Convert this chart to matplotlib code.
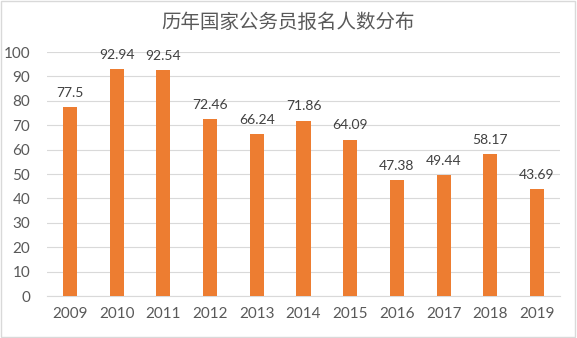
import matplotlib.pyplot as plt
import numpy as np

years = ['2009', '2010', '2011', '2012', '2013', '2014', '2015', '2016', '2017', '2018', '2019']
applicants = [77.5, 92.94, 92.54, 72.46, 66.24, 71.86, 64.09, 47.38, 49.44, 58.17, 43.69]
title = '历年国家公务员报名人数分布'

plt.rcParams['font.family'] = ['Lato', 'Noto Sans CJK SC', 'DejaVu Sans']

fig = plt.figure(figsize=(5.77, 3.38), dpi=100)
ax = fig.add_axes([0.081, 0.124, 0.89, 0.722])

x = np.arange(len(years))
ax.bar(x, applicants, width=0.3, color='#ED7D31', zorder=3)

for xi, v in zip(x, applicants):
    ax.annotate(f'{v:g}', (xi, v), xytext=(0, 6), textcoords='offset points',
                ha='center', va='bottom', fontsize=10, color='#404040')

ax.set_xlim(-0.5, len(years) - 0.5)
ax.set_ylim(0, 100)
ax.set_yticks(range(0, 101, 10))
ax.set_xticks(x)
ax.set_xticklabels(years)
ax.yaxis.grid(True, color='#D9D9D9', linewidth=0.8, zorder=0)
ax.tick_params(length=0, labelsize=11, labelcolor='#595959', pad=8)
ax.tick_params(axis='y', pad=12)
for side in ['top', 'right', 'left']:
    ax.spines[side].set_visible(False)
ax.spines['bottom'].set_color('#D9D9D9')

fig.text(0.5, 0.935, title, ha='center', va='center', fontsize=14,
         color='#595959', family=['Noto Sans CJK SC', 'DejaVu Sans'],
         fontweight='light')

# thin gray frame around the whole chart
fig.patches.append(plt.Rectangle((0.002, 0.003), 0.995, 0.993, transform=fig.transFigure,
                                 fill=False, edgecolor='#D9D9D9', linewidth=1))

fig.savefig('out.png', dpi=100)
